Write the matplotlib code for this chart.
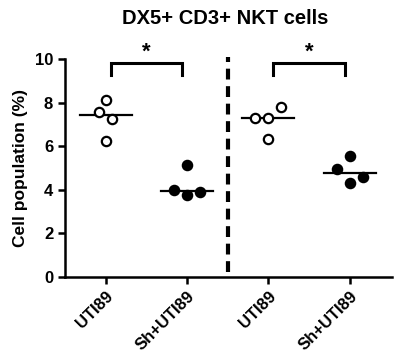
import matplotlib
matplotlib.use("Agg")
import matplotlib.pyplot as plt
import numpy as np

plt.rcParams['font.family'] = ['Liberation Sans', 'DejaVu Sans']
plt.rcParams['font.weight'] = 'bold'

categories = ["UTI89", "Sh+UTI89", "UTI89", "Sh+UTI89"]
values = [
    [8.11, 7.59, 7.25, 6.26],
    [5.15, 3.97, 3.78, 3.88],
    [7.82, 7.29, 7.29, 6.35],
    [5.56, 4.95, 4.61, 4.32],
]
x_offsets = [
    [0.0, -0.08, 0.08, 0.0],
    [0.0, -0.16, 0.0, 0.16],
    [0.16, -0.16, 0.0, 0.0],
    [0.0, -0.16, 0.16, 0.0],
]
filled = [False, True, False, True]
brackets = [(0, 1), (2, 3)]
bracket_y = 9.8
bracket_leg = 9.25
yticks = [0, 2, 4, 6, 8, 10]
title = "DX5+ CD3+ NKT cells"
ylabel = "Cell population (%)"

fig = plt.figure(figsize=(4.0, 3.6), dpi=100)
ax = fig.add_axes([0.1625, 0.2306, 0.8175, 0.6054])

for i, (vals, offs) in enumerate(zip(values, x_offsets)):
    xs = i + np.array(offs)
    ax.scatter(xs, vals, s=45, facecolor='black' if filled[i] else 'white',
               edgecolor='black', linewidths=1.6, zorder=3, clip_on=False)
    med = np.median(vals)
    ax.plot([i - 0.32, i + 0.32], [med, med], color='black', lw=1.6, zorder=2)

for a, b in brackets:
    ax.plot([a + 0.06, a + 0.06, b - 0.06, b - 0.06],
            [bracket_leg, bracket_y, bracket_y, bracket_leg],
            color='black', lw=2.2, clip_on=False, solid_joinstyle='miter')
    ax.text((a + b) / 2, bracket_y + 0.02, "*", ha='center', va='bottom',
            fontsize=16, fontweight='bold', clip_on=False)

ax.plot([1.5, 1.5], [0.25, 10.1], color='black', lw=3, ls=(0, (2.6, 1.6)),
        clip_on=False)

ax.set_xlim(-0.5, 3.52)
ax.set_ylim(0, 10)
ax.set_yticks(yticks)
ax.set_yticklabels([str(t) for t in yticks], fontsize=12, fontweight='bold')
ax.set_xticks(range(len(categories)))
ax.set_xticklabels(categories, rotation=45, ha='right', rotation_mode='anchor',
                   fontsize=12, fontweight='bold')
ax.spines['top'].set_visible(False)
ax.spines['right'].set_visible(False)
for s in ['left', 'bottom']:
    ax.spines[s].set_linewidth(1.8)
ax.tick_params(axis='both', width=1.8, length=5, direction='out')
ax.set_ylabel(ylabel, fontsize=12.5, fontweight='bold', labelpad=5)
fig.text(0.5625, 0.95, title, ha='center', va='center', fontsize=14.5,
         fontweight='bold')

fig.savefig("out.png", dpi=100)
